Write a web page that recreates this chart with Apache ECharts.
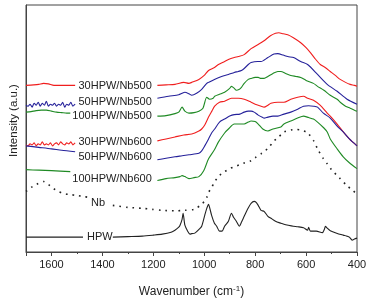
<!DOCTYPE html>
<html>
<head>
<meta charset="utf-8">
<script src="https://cdn.jsdelivr.net/npm/echarts@6/dist/echarts.min.js"></script>
<style>
  html, body { margin: 0; padding: 0; background: #fff; }
  #chart { width: 371px; height: 303px; }
</style>
</head>
<body>
<div id="chart"></div>
<script>
// wavenumbers (cm-1) and offset intensities; null = gap for the label
const wn30_500 = [1700,1670,1650,1631,1612,1590,1560,1530,1507,1350,1184,1150,1115,1080,1060,1049,1021,1000,983,960,944,920,905,882,866,843,816,790,765,740,720,707,690,672,650,621,600,583,565,544,525,505,485,466,445,427,410,400];
const int30_500 = [168,168.5,169,170,169.5,168,168,168,168,null,168,168.5,169,171,170,171,174,178,183,186,189,192,194,196,197,199,205,209,213,218,220.5,221,220,219,216,211,206,201,195,189,186,182,178,174,171,169,168,167];

const wn50_500 = [1700,1692,1684,1676,1668,1660,1652,1644,1636,1628,1620,1612,1604,1596,1588,1580,1572,1564,1556,1548,1540,1532,1524,1516,1507,1350,1184,1140,1100,1087,1076,1060,1049,1030,1010,990,983,960,932,905,882,866,854,843,827,816,790,777,750,726,711,690,672,649,621,594,555,517,478,439,400];
const int50_500 = [148,147,149,146,150,148,151,147,150,148,152,147,149,148,150,147,149,148,151,146,149,148,151,147,149,null,155,157,158.5,160,161,159.5,158,160,164,170,171,174,177,179,181,182,183,185,189,191,192,192,196,199.5,200,198.5,197,196,192,189,179,169,162,154,149];

const wn100_500 = [1700,1680,1660,1640,1620,1600,1580,1560,1540,1526,1350,1184,1150,1115,1100,1087,1076,1060,1040,1021,1005,990,979,965,959,940,920,900,893,882,874,862,854,843,827,816,800,788,777,765,750,730,711,699,680,660,640,621,600,571,555,530,505,478,466,445,427,410,400];
const int100_500 = [141,141.5,142.5,143,143,142,141,140.5,140,140,null,137,137.5,139.5,141,146,142,140,140.5,142,145,156,154,155,157,159,161,165,167,165,163,164,166,170,174,175,176,176,175,175,177,180,182,182,180,178,177,176,173,170,167,163,158,154,151,147,145,143,142];

const wn30_600 = [1700,1692,1684,1676,1668,1660,1652,1644,1636,1628,1620,1612,1604,1596,1588,1580,1572,1564,1556,1548,1540,1532,1524,1516,1507,1350,1184,1150,1115,1080,1049,1021,1010,998,983,970,959,940,920,893,866,843,816,800,777,765,750,738,711,687,660,633,610,594,571,545,517,505,478,454,430,400];
const int30_600 = [108,107,109,108,110,107,109,108,111,108,109,108,110,107,109,110,108,111,109,108,110,109,111,108,110,null,112,114,116,118,119,122,124,128,136,142,147,151,152,155,155,154,151,149,147,146,148,150,151,151,154,156,157,155,153,148,140,137,129,121,114,107];

const wn50_600 = [1700,1650,1600,1560,1507,1350,1184,1150,1115,1087,1060,1021,1010,998,983,971,959,940,920,900,882,860,843,827,816,804,788,770,765,750,730,711,687,660,633,610,590,570,555,532,505,478,454,430,400];
const int50_600 = [107,105.5,104,102.5,101,null,93,94.5,96,97,98,99.5,102,107,114,120,124,131,134,137,138.5,139,141,142,142,141,138,135.5,135,136,137,137,139,141,144,147,147.5,147,146,140,135,127,121,114,107];

const wn100_600 = [1700,1650,1600,1526,1350,1184,1150,1115,1095,1087,1076,1060,1040,1021,1002,983,960,944,920,905,882,862,843,827,816,800,788,770,750,730,699,687,660,633,610,590,571,555,530,517,505,478,454,430,400];
const int100_600 = [83,82.5,82,81,null,72,74,75,76,77,76,74,75,76,82,94,103,111,120,124,129,129,129,131,132,131.5,129,124,122,124,126,129,132,135,137,135.5,134,131,125,121,114,104,96,90,84];

const wnNb = [1700,1680,1660,1631,1612,1592,1573,1553,1530,1500,1476,1452,1400,1359,1300,1243,1204,1165,1115,1076,1040,1010,1000,990,983,971,959,940,920,900,882,860,840,816,800,777,765,745,726,711,687,660,640,621,600,590,570,555,532,517,500,478,466,440,416,400];
const intNb = [61,65,68,71,68,64,61,59,58,57,56,55,null,47,45,44,43,42,41.5,42,43,48,51,55,60,65,71,77,81,84,86,88,90,92,95,99,101,106,112,115,121,123,123.5,123,121,119,112,104,94,89,83,77,74,67,62,58];

const wnHPW = [1700,1600,1500,1476,1400,1359,1300,1243,1200,1165,1130,1115,1100,1095,1087,1083,1076,1065,1056,1049,1037,1020,1010,998,990,983,979,971,960,951,940,930,920,905,893,885,874,862,854,843,830,816,804,796,788,777,765,750,738,720,699,687,670,650,633,610,594,590,583,560,536,528,524,517,505,480,454,440,430,419,410,400];
const intHPW = [15,15,15,15,null,15,15.5,16,17,18,20,22,25,27,33,39,27,21,18,18.5,19,23,26,37,44,48,45,37,29,26,21,21,26,31,39,35,31,26,30,36,43,49,51,50,47,42,41,36,34,31,29,28,27,26,25.5,24.5,22,25,21,21,19.5,23,26,24,21.5,19,17,16,15,12,13,14];

const xTicks = [1600, 1400, 1200, 1000, 800, 600, 400];

const FONT = "'Liberation Sans', Arial, sans-serif";
const TXT = "#222";

const pairs = (xs, ys) => xs.map((x, i) => [x, ys[i] == null ? "-" : ys[i]]);

// curve label, anchored in data coordinates
const tag = (name, x, y, pos) => ({
  symbol: "circle",
  symbolSize: 1,
  silent: true,
  itemStyle: { color: "rgba(0,0,0,0)" },
  label: {
    show: true,
    position: pos,
    distance: 2,
    formatter: () => name,
    color: TXT,
    fontSize: 11,
    fontFamily: FONT
  },
  data: [{ coord: [x, y], value: 0 }]
});

const line = (name, xs, ys, color, labelAt, extra) =>
  Object.assign(
    {
      name,
      type: "line",
      data: pairs(xs, ys),
      showSymbol: false,
      smooth: 0.25,
      connectNulls: false,
      lineStyle: { color, width: 1.1 },
      itemStyle: { color },
      markPoint: tag(name, labelAt[0], labelAt[1], labelAt[2])
    },
    extra || {}
  );

const chart = echarts.init(document.getElementById("chart"), null, { renderer: "canvas" });

chart.setOption({
  animation: false,
  backgroundColor: "#fff",
  grid: {
    left: 21,
    right: 14,
    top: 5,
    bottom: 49,
    show: true,
    borderColor: "#444",
    borderWidth: 1
  },
  xAxis: {
    type: "value",
    inverse: true,
    min: 400,
    max: 1700,
    interval: 200,
    name: "Wavenumber (cm{sup|-1})",
    nameLocation: "middle",
    nameGap: 33,
    nameTextStyle: {
      color: TXT,
      fontSize: 12,
      fontFamily: FONT,
      rich: { sup: { fontSize: 8, verticalAlign: "top", padding: [0, 0, 6, 0], color: TXT } }
    },
    axisLine: { lineStyle: { color: "#444" } },
    axisTick: { length: 4, lineStyle: { color: "#444" } },
    minorTick: { show: true, splitNumber: 2, length: 2, lineStyle: { color: "#444" } },
    splitLine: { show: false },
    axisLabel: {
      color: TXT,
      fontSize: 11,
      fontFamily: FONT,
      margin: 7,
      formatter: v => (xTicks.includes(v) ? String(v) : "")
    }
  },
  yAxis: {
    type: "value",
    min: 0,
    max: 249,
    name: "Intensity (a.u.)",
    nameLocation: "middle",
    nameGap: 6,
    nameTextStyle: { color: TXT, fontSize: 11.5, fontFamily: FONT, padding: [0, 0, 0, 16] },
    axisLine: { show: true, lineStyle: { color: "#444" } },
    axisTick: { show: false },
    axisLabel: { show: false },
    splitLine: { show: false }
  },
  series: [
    line("30HPW/Nb500", wn30_500, int30_500, "#f01e1e", [1196, 167, "left"]),
    line("50HPW/Nb500", wn50_500, int50_500, "#25219a", [1196, 151, "left"]),
    line("100HPW/Nb500", wn100_500, int100_500, "#1f8a24", [1196, 137, "left"]),
    line("30HPW/Nb600", wn30_600, int30_600, "#f01e1e", [1196, 111, "left"]),
    line("50HPW/Nb600", wn50_600, int50_600, "#25219a", [1196, 96, "left"]),
    line("100HPW/Nb600", wn100_600, int100_600, "#1f8a24", [1196, 74, "left"]),
    line("Nb", wnNb, intNb, "#222", [1417, 49, "inside"], {
      lineStyle: { color: "#222", width: 1.6, type: [1.6, 5] }
    }),
    line("HPW", wnHPW, intHPW, "#222", [1410, 15, "inside"])
  ]
});

window.addEventListener("resize", () => chart.resize());
</script>
</body>
</html>
